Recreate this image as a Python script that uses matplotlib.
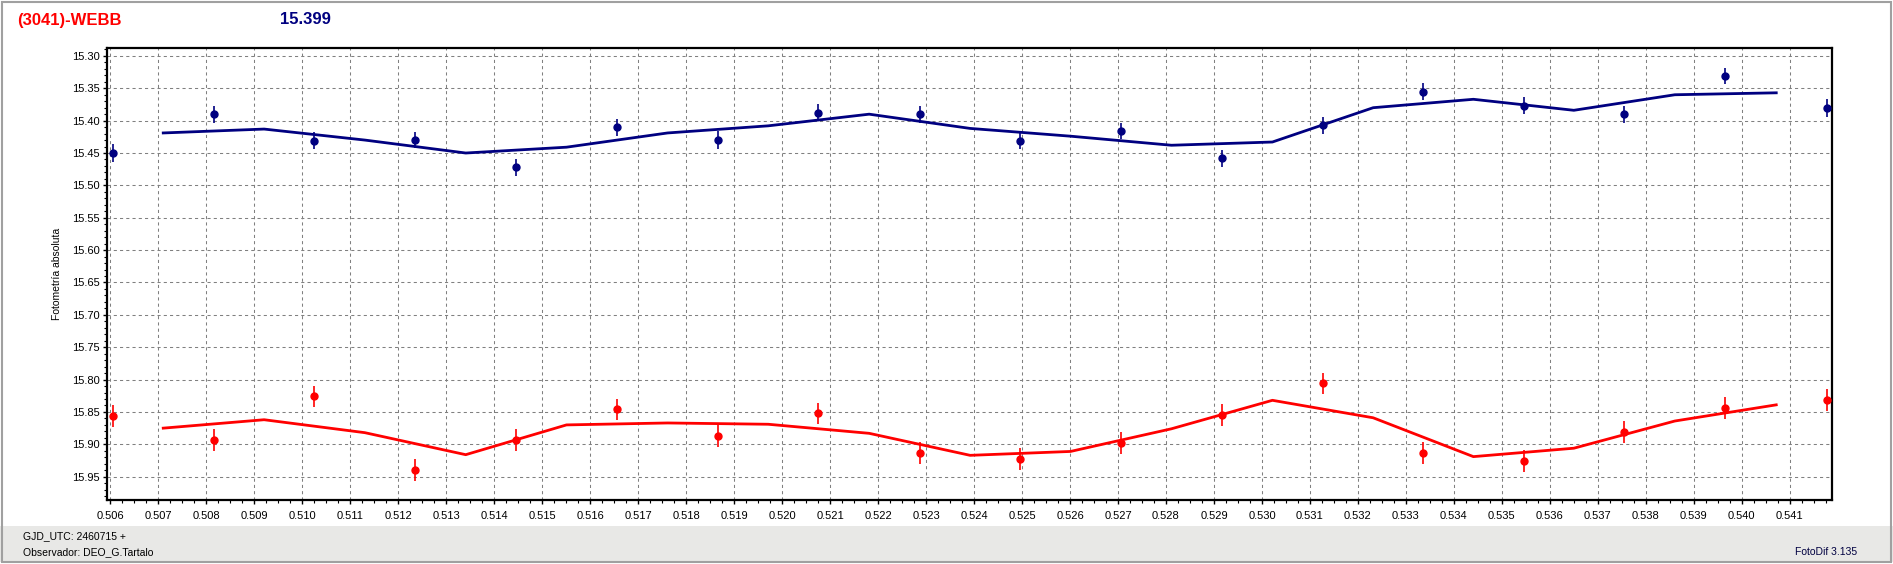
import matplotlib
matplotlib.use("Agg")
import matplotlib.pyplot as plt
import matplotlib.patches as patches
from matplotlib.ticker import MultipleLocator, FormatStrFormatter

# --- data ---
gjd = [0.50605, 0.50815, 0.51025, 0.51235, 0.51445, 0.51655, 0.51867, 0.52074, 0.52288,
       0.52496, 0.52706, 0.52916, 0.53127, 0.53335, 0.53546, 0.53755, 0.53966, 0.54177]

blue_mag = [15.450, 15.390, 15.431, 15.430, 15.472, 15.410, 15.430, 15.388, 15.390,
            15.431, 15.416, 15.458, 15.407, 15.355, 15.377, 15.390, 15.331, 15.381]
blue_err = [0.014, 0.013, 0.013, 0.013, 0.013, 0.013, 0.014, 0.013, 0.013,
            0.013, 0.013, 0.013, 0.013, 0.013, 0.013, 0.013, 0.013, 0.014]

red_mag = [15.857, 15.894, 15.826, 15.939, 15.894, 15.846, 15.887, 15.852, 15.913,
           15.922, 15.898, 15.855, 15.806, 15.913, 15.926, 15.881, 15.844, 15.832]
red_err = [0.017, 0.017, 0.016, 0.017, 0.017, 0.016, 0.017, 0.016, 0.017,
           0.017, 0.017, 0.017, 0.016, 0.017, 0.017, 0.017, 0.017, 0.017]

# smoothed curves (vertices sit between consecutive observations)
curve_x = [0.507102, 0.509204, 0.511304, 0.513406, 0.515506, 0.517614, 0.519710, 0.521814,
           0.523918, 0.526010, 0.528114, 0.530218, 0.532318, 0.534406, 0.536500, 0.538604, 0.540718]
blue_curve = [15.419, 15.413, 15.430, 15.450, 15.441, 15.419, 15.408, 15.390, 15.412,
              15.424, 15.438, 15.433, 15.380, 15.367, 15.384, 15.360, 15.357]
red_curve = [15.875, 15.862, 15.882, 15.916, 15.870, 15.867, 15.869, 15.883, 15.917,
             15.911, 15.876, 15.832, 15.859, 15.919, 15.906, 15.864, 15.839]

x_ticks = [round(0.506 + 0.001 * i, 3) for i in range(36)]
y_ticks = [round(15.30 + 0.05 * i, 2) for i in range(14)]

NAVY = "#000080"
RED = "#ff0000"
W, H = 1893, 564

plt.rcParams["font.family"] = ["Liberation Sans", "DejaVu Sans"]

fig = plt.figure(figsize=(W / 100, H / 100), dpi=100)
fig.patch.set_facecolor("white")

# plot area
left, right, top, bottom = 107, 1832, 47.5, 500
ax = fig.add_axes([left / W, 1 - bottom / H, (right - left) / W, (bottom - top) / H])

ax.plot(curve_x, blue_curve, color=NAVY, lw=2.0, zorder=3)
ax.plot(curve_x, red_curve, color=RED, lw=2.0, zorder=3)
ax.errorbar(gjd, blue_mag, yerr=blue_err, fmt="o", ms=5, color=NAVY,
            elinewidth=1.2, capsize=0, zorder=4)
ax.errorbar(gjd, red_mag, yerr=red_err, fmt="o", ms=5, color=RED,
            elinewidth=1.2, capsize=0, zorder=4)

ax.set_xlim(0.50593, 0.54188)
ax.set_ylim(15.986, 15.287)

ax.set_xticks(x_ticks)
ax.set_yticks(y_ticks)
ax.xaxis.set_major_formatter(FormatStrFormatter("%.3f"))
ax.yaxis.set_major_formatter(FormatStrFormatter("%.2f"))
ax.xaxis.set_minor_locator(MultipleLocator(0.00025))
ax.yaxis.set_minor_locator(MultipleLocator(0.01))
ax.tick_params(which="major", direction="out", length=3, width=1, labelsize=8)
ax.tick_params(axis="x", which="major", pad=5)
ax.tick_params(axis="y", which="major", pad=2)
ax.tick_params(which="minor", direction="out", length=2, width=0.8)

# dashed grid on the major ticks only
ax.grid(False, which="minor")
ax.grid(True, which="major", linestyle=(0, (3, 3)), color="#808080", linewidth=0.75)
ax.set_axisbelow(True)
for s in ax.spines.values():
    s.set_linewidth(1.6)
    s.set_color("black")

# y label
fig.text(56.5 / W, 1 - 274 / H, "Fotometría absoluta", rotation=90,
         ha="center", va="center", fontsize=7.5)

# header
fig.text(17 / W, 1 - 20 / H, "(3041)-WEBB", color=RED, fontsize=12,
         fontweight="bold", va="center", ha="left")
fig.text(280 / W, 1 - 20 / H, "15.399", color=NAVY, fontsize=12,
         fontweight="bold", va="center", ha="left")

# status band at the bottom
fig.add_artist(patches.Rectangle((0, (H - 562) / H), 1, 36 / H,
                                 transform=fig.transFigure, facecolor="#e8e8e6",
                                 edgecolor="none", zorder=0))
fig.text(22.7 / W, 1 - 536 / H, "GJD_UTC: 2460715 +", fontsize=7.5, va="center")
fig.text(22.7 / W, 1 - 552 / H, "Observador: DEO_G.Tartalo", fontsize=7.5, va="center")
fig.text(1857 / W, 1 - 552 / H, "FotoDif 3.135", fontsize=7.5, va="center", ha="right",
         color="#000040")

# window border
fig.add_artist(patches.Rectangle((1.5 / W, (H - 562) / H), (1889 / W), 560.5 / H,
                                 transform=fig.transFigure, facecolor="none",
                                 edgecolor="#a0a0a0", lw=1.5, zorder=5))

fig.savefig("out.png", dpi=100)
plt.close(fig)
